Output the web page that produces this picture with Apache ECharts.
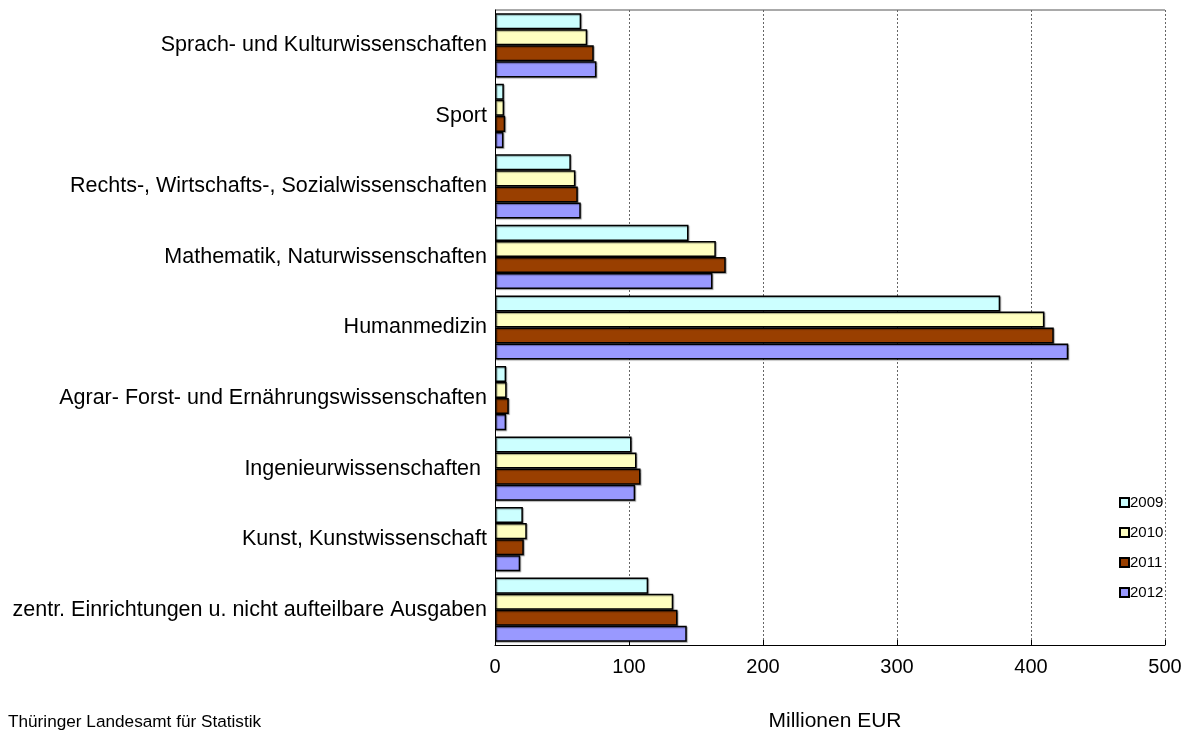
<!DOCTYPE html>
<html><head><meta charset="utf-8">
<script src="https://cdn.jsdelivr.net/npm/echarts@6/dist/echarts.min.js"></script>
<style>html,body{margin:0;padding:0;background:#fff}#c{width:1192px;height:733px}</style>
</head><body><div id="c"></div>
<script>
const categories = ["Sprach- und Kulturwissenschaften","Sport","Rechts-, Wirtschafts-, Sozialwissenschaften","Mathematik, Naturwissenschaften","Humanmedizin","Agrar- Forst- und Ernährungswissenschaften","Ingenieurwissenschaften ","Kunst, Kunstwissenschaft","zentr. Einrichtungen u. nicht aufteilbare Ausgaben"];
const years = ["2009","2010","2011","2012"];
const v2009 = [64.3, 6.6, 56.6, 144.4, 377, 8.3, 101.9, 20.8, 114.3];
const v2010 = [68.8, 6.8, 60, 164.8, 410, 8.7, 105.6, 23.7, 133];
const v2011 = [73.7, 7.6, 61.8, 172.2, 417, 10.3, 108.6, 21.5, 136.2];
const v2012 = [75.7, 6.3, 64, 162.3, 427.8, 8.3, 104.6, 18.8, 143.1];
const xTicks = [0, 100, 200, 300, 400, 500];
const colors = ["#CCFFFF", "#FFFFC0", "#993F00", "#9999FF"];
const values = [v2009, v2010, v2011, v2012];
const font = "Liberation Sans, Arial, sans-serif";
const chart = echarts.init(document.getElementById('c'));
chart.setOption({
  animation: false,
  textStyle: { fontFamily: font },
  title: [
    { text: "Millionen EUR", left: 830, top: 706, textAlign: "center", textStyle: { fontSize: 21, fontWeight: "normal", color: "#000", fontFamily: font } },
    { text: "Thüringer Landesamt für Statistik", left: 3, top: 709, textStyle: { fontSize: 17.2, fontWeight: "normal", color: "#000", fontFamily: font } }
  ],
  legend: {
    data: years, orient: "vertical", left: 1114, top: 490, itemGap: 15,
    itemWidth: 9, itemHeight: 9, icon: "rect",
    textStyle: { fontSize: 15, color: "#000", fontFamily: font, padding: [0,0,0,-4] }
  },
  grid: { left: 495, right: 27, top: 10, bottom: 88, containLabel: false },
  xAxis: {
    type: "value", min: xTicks[0], max: xTicks[xTicks.length-1], interval: 100,
    axisLine: { show: true, lineStyle: { color: "#000", width: 1 } },
    axisTick: { show: true, length: 5, inside: true, lineStyle: { color: "#000" } },
    axisLabel: { fontSize: 20, color: "#000", margin: 12, fontFamily: font },
    splitLine: { show: true, lineStyle: { color: "#666", type: [2, 2], width: 1 } }
  },
  yAxis: [{
    type: "category", data: categories, inverse: true,
    axisLine: { show: true, lineStyle: { color: "#000", width: 1 } },
    axisTick: { show: false },
    axisLabel: { fontSize: 21.5, color: "#000", margin: 8, fontFamily: font },
    splitLine: { show: false }
  }],
  series: years.map((y, i) => ({
    name: y, type: "bar", data: values[i],
    barGap: "0%", barCategoryGap: "9%",
    itemStyle: { color: colors[i], borderColor: "#000", borderWidth: 1.5,
      shadowColor: "rgba(0,0,0,0.35)", shadowOffsetX: 1, shadowOffsetY: 1, shadowBlur: 1 }
  })),
  graphic: [{ type: "line", shape: { x1: 495, y1: 10, x2: 1165, y2: 10 }, style: { stroke: "#555", lineWidth: 1 } }]
});
</script></body></html>
